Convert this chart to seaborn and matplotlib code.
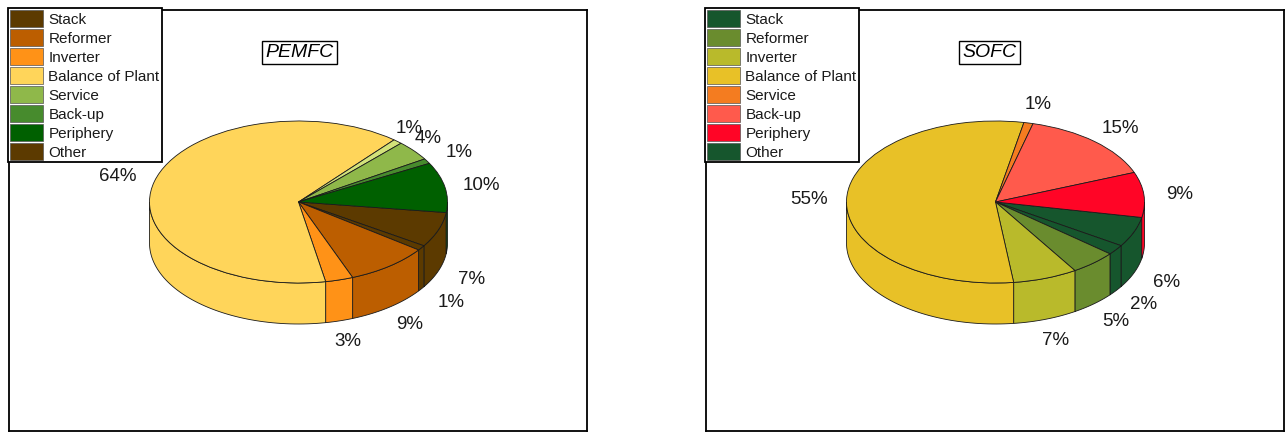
import numpy as np
import matplotlib
matplotlib.use("Agg")
import matplotlib.pyplot as plt
from matplotlib.patches import Patch, Polygon
import seaborn as sns

sns.set_theme(style="white")
plt.rcParams["font.family"] = ["Liberation Sans", "DejaVu Sans"]

# Cost shares, clockwise from the stack slice
pemfc_parts = ["Stack", "Other", "Reformer", "Inverter", "Balance of Plant",
               "Unlisted", "Service", "Back-up", "Periphery"]
pemfc_shares = [7, 1, 9, 3, 64, 1, 4, 1, 10]
pemfc_colors = ["#5C3A00", "#5C3A00", "#BC5E00", "#FF9217", "#FFD55A",
                "#D3E27A", "#8FB84A", "#478B2D", "#006000"]

sofc_parts = ["Stack", "Other", "Reformer", "Inverter", "Balance of Plant",
              "Service", "Back-up", "Periphery"]
sofc_shares = [6, 2, 5, 7, 55, 1, 15, 9]
sofc_colors = ["#16562D", "#16562D", "#6A8C2E", "#B9BA2B", "#E8C127",
               "#F47C20", "#FF5A4C", "#FF0526"]

legend_order = ["Stack", "Reformer", "Inverter", "Balance of Plant",
                "Service", "Back-up", "Periphery", "Other"]

W, H = 1288, 432
RX, RY, DEPTH = 149.0, 81.0, 41.0
EDGE = "#1a1a1a"


def draw_panel(frame, center, title, title_x, parts, shares, colors, start, label_px, legend_x):
    left, right, top, bottom = frame
    cx, cy = center
    ax = plt.figure(1).add_axes([left / W, 1 - bottom / H, (right - left) / W, (bottom - top) / H])
    wedges, _ = ax.pie(shares, colors=sns.color_palette(colors), startangle=start,
                       counterclock=False, radius=1,
                       wedgeprops=dict(edgecolor=EDGE, linewidth=0.6, zorder=3))
    ax.set_aspect("auto")
    ax.set_frame_on(True)
    for s in ax.spines.values():
        s.set_visible(True)
        s.set_color("black")
        s.set_linewidth(1.3)
    ax.set_xlim((left - cx) / RX, (right - cx) / RX)
    ax.set_ylim((cy - bottom) / RY, (cy - top) / RY)
    ax.set_xticks([])
    ax.set_yticks([])

    # Cylinder wall below each slice: only the front half of the rim is visible.
    # Clockwise slices carry negative angles, so several turns are checked.
    drop = DEPTH / RY
    for w, col in zip(wedges, colors):
        for k in (-720, -360, 0, 360):
            a = max(w.theta1, 180 + k)
            b = min(w.theta2, 360 + k)
            if b <= a:
                continue
            t = np.radians(np.linspace(a, b, 60))
            rim = np.column_stack([np.cos(t), np.sin(t)])
            low = (rim - [0, drop])[::-1]
            ax.add_patch(Polygon(np.vstack([rim, low]), closed=True, facecolor=col,
                                 edgecolor=EDGE, linewidth=0.6, zorder=2))

    # Percentage labels
    for v, (px, py) in zip(shares, label_px):
        ax.text((px - cx) / RX, (cy - py - 1.5) / RY, f"{v}%", ha="center", va="center",
                fontsize=13.5, color="#1a1a1a", zorder=6)

    ax.text((title_x - cx) / RX, (cy - 52.5) / RY, title, ha="center", va="center",
            fontsize=14, style="italic", color="black", zorder=6,
            bbox=dict(boxstyle="square,pad=0.17", facecolor="white", edgecolor="black", linewidth=1.0))

    lookup = dict(zip(parts, colors))
    handles = [Patch(facecolor=lookup[n], edgecolor="#555555", linewidth=0.5, label=n)
               for n in legend_order]
    leg = ax.legend(handles=handles, loc="upper left",
                    bbox_to_anchor=((legend_x - left) / (right - left), 1 + 2 / (bottom - top)),
                    fontsize=11, frameon=True, fancybox=False, framealpha=1,
                    edgecolor="black", borderpad=0.14, borderaxespad=0,
                    labelspacing=0.155, handlelength=2.15, handleheight=1.3,
                    handletextpad=0.36, labelcolor="#1a1a1a")
    leg.get_frame().set_linewidth(1.3)
    leg.set_zorder(7)


fig = plt.figure(1, figsize=(W / 100, H / 100), dpi=100, facecolor="white")

draw_panel((9, 587, 10, 431), (298.5, 202), "PEMFC", 299.5, pemfc_parts, pemfc_shares,
           pemfc_colors, -7.5,
           [(472, 278), (451, 301), (410, 323), (348, 340), (118, 175),
            (409, 127), (428, 137), (459, 151), (481, 184)], 8)
draw_panel((706, 1284, 10, 431), (995.5, 202), "SOFC", 989.5, sofc_parts, sofc_shares,
           sofc_colors, -11,
           [(1167, 281), (1144, 303), (1116, 320), (1056, 339), (809, 198),
            (1038, 103), (1120, 127), (1180, 193)], 705)

fig.savefig("out.png", dpi=100)
